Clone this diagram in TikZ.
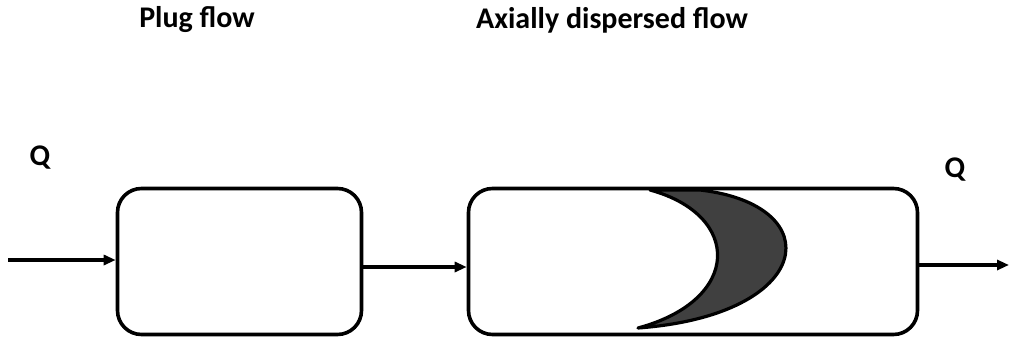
\documentclass[tikz,border=0pt]{standalone}
\usepackage{fontspec}
\setmainfont{Carlito}
\usetikzlibrary{arrows.meta}
\begin{document}
\begin{tikzpicture}[x=1pt,y=-1pt,
  reactor/.style={draw, line width=3.6pt, rounded corners=24pt, minimum height=146pt, inner sep=0pt},
  flow/.style={line width=3.2pt, -{Triangle[length=12pt,width=10pt]}},
  lbl/.style={font=\bfseries\fontsize{30}{36}\selectfont, inner sep=0pt}]
\useasboundingbox (0,0) rectangle (1009,345);
\node[reactor, minimum width=244pt] (pf) at (239.5,261.5) {};
\node[reactor, minimum width=449pt] (ad) at (693,261.5) {};
\coordinate (in) at (8,260);
\coordinate (out) at (1009,265);
\draw[flow] (in) -- (pf.west |- in);
\draw[flow] (pf.east |- 0,267) -- (ad.west |- 0,267);
\draw[flow] (ad.east |- out) -- (out);
\fill[fill=black!75, draw=black, line width=3.2pt, line join=round]
  (650,190) .. controls (742,215) and (742,300) .. (638,328)
  .. controls (815,315) and (830,205) .. (700,190) -- cycle;
\node[lbl] (t1) at (197,20) {Plug flow};
\node[lbl] (t2) at (612,20) {Axially dispersed flow};
\node[lbl] (q1) at (40,158) {Q};
\node[lbl] (q2) at (955,170) {Q};
\end{tikzpicture}
\end{document}
